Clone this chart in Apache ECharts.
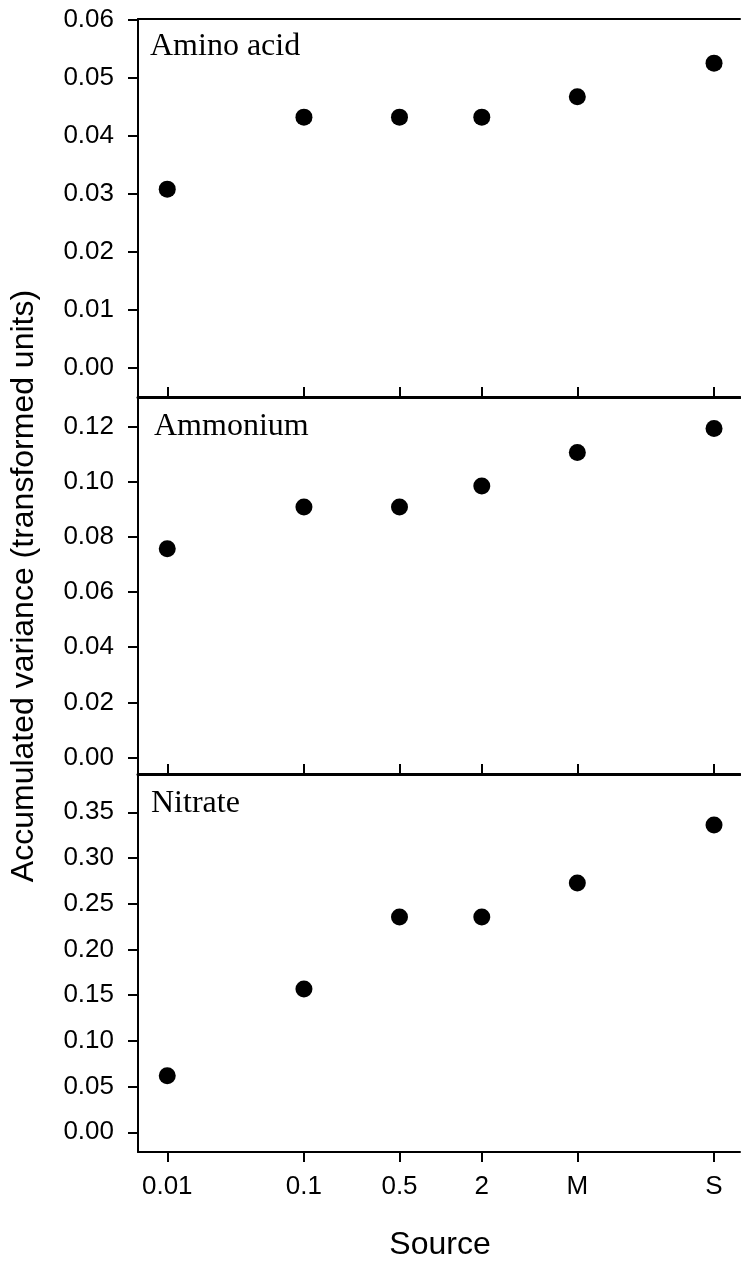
<!DOCTYPE html>
<html>
<head>
<meta charset="utf-8">
<script src="https://cdn.jsdelivr.net/npm/echarts@6/dist/echarts.min.js"></script>
<style>
html,body{margin:0;padding:0;background:#fff;}
#chart{width:741px;height:1261px;}
</style>
</head>
<body>
<div id="chart"></div>
<script>
// ---- data ----
const xValues = [0.01, 0.1, 0.5, 2, 10, 100];
const xLabels = ['0.01', '0.1', '0.5', '2', 'M', 'S'];
const aminoAcid = [0.0308, 0.0432, 0.0432, 0.0432, 0.0467, 0.0525];
const ammonium = [0.0757, 0.0909, 0.0909, 0.0985, 0.1107, 0.1194];
const nitrate = [0.0619, 0.1568, 0.2355, 0.2355, 0.2727, 0.3360];
const panelNames = ['Amino acid', 'Ammonium', 'Nitrate'];
const yTicksAmino = [0, 0.01, 0.02, 0.03, 0.04, 0.05, 0.06];
const yTicksAmmonium = [0, 0.02, 0.04, 0.06, 0.08, 0.10, 0.12];
const yTicksNitrate = [0, 0.05, 0.10, 0.15, 0.20, 0.25, 0.30, 0.35];
const yTitle = 'Accumulated variance (transformed units)';
const xTitle = 'Source';

// ---- chart ----
const chart = echarts.init(document.getElementById('chart'), null, {renderer: 'canvas'});
const SANS = '"Liberation Sans", Arial, sans-serif';
const SERIF = '"Liberation Serif", "Times New Roman", serif';
const logX = xValues.map(v => Math.log10(v));
const xFmt = function (v) {
  let best = 0, bd = Infinity;
  logX.forEach((lx, i) => { const d = Math.abs(lx - v); if (d < bd) { bd = d; best = i; } });
  return xLabels[best];
};

const panels = [
  {data: aminoAcid, ticks: yTicksAmino, min: -0.005, max: 0.0601, top: 19, height: 378},
  {data: ammonium, ticks: yTicksAmmonium, min: -0.006, max: 0.1308, top: 397, height: 377},
  {data: nitrate, ticks: yTicksNitrate, min: -0.0216, max: 0.3919, top: 774, height: 378}
];

const grids = panels.map(p => ({left: 138, right: 1, top: p.top, height: p.height}));

const xAxes = panels.map((p, i) => ({
  type: 'value', gridIndex: i, min: -2.214, max: 2.19,
  axisLine: {show: true, onZero: false, lineStyle: {color: '#000', width: i < 2 ? 3 : 2}},
  axisTick: {show: true, inside: i < 2, length: 10, customValues: logX, lineStyle: {color: '#000', width: 2}},
  axisLabel: {show: i === 2, customValues: logX, formatter: xFmt, margin: 22,
              fontFamily: SANS, fontSize: 26, color: '#000'},
  splitLine: {show: false}
}));
xAxes.push({
  type: 'value', gridIndex: 0, position: 'top', min: -2.214, max: 2.19,
  axisLine: {show: true, onZero: false, lineStyle: {color: '#000', width: 2}},
  axisTick: {show: false}, axisLabel: {show: false}, splitLine: {show: false}
});

const yAxes = panels.map((p, i) => ({
  type: 'value', gridIndex: i, min: p.min, max: p.max,
  axisLine: {show: true, onZero: false, lineStyle: {color: '#000', width: 2}},
  axisTick: {show: true, length: 10, customValues: p.ticks, lineStyle: {color: '#000', width: 2}},
  axisLabel: {customValues: p.ticks, formatter: v => v.toFixed(2), margin: 24,
              fontFamily: SANS, fontSize: 26, color: '#000'},
  splitLine: {show: false}
}));

const series = panels.map((p, i) => ({
  type: 'scatter', xAxisIndex: i, yAxisIndex: i,
  data: xValues.map((x, j) => [Math.log10(x), p.data[j]]),
  symbol: 'circle', symbolSize: 17,
  itemStyle: {color: '#000', opacity: 1},
  z: 5
}));

const titleYs = [48, 428, 805];
const titleXs = [150, 154, 151];
const graphics = panelNames.map((name, i) => ({
  type: 'text', left: titleXs[i], top: titleYs[i] - 17,
  style: {text: name, font: '32px ' + SERIF, fill: '#000'}
}));
graphics.push({
  type: 'text', x: 24, y: 586, rotation: Math.PI / 2,
  style: {text: yTitle, font: '32px ' + SANS, fill: '#000', textAlign: 'center', textVerticalAlign: 'middle'}
});
graphics.push({
  type: 'text', x: 440, y: 1245,
  style: {text: xTitle, font: '32px ' + SANS, fill: '#000', textAlign: 'center', textVerticalAlign: 'middle'}
});

chart.setOption({
  animation: false,
  backgroundColor: '#fff',
  grid: grids,
  xAxis: xAxes,
  yAxis: yAxes,
  series: series,
  graphic: graphics
});
</script>
</body>
</html>
